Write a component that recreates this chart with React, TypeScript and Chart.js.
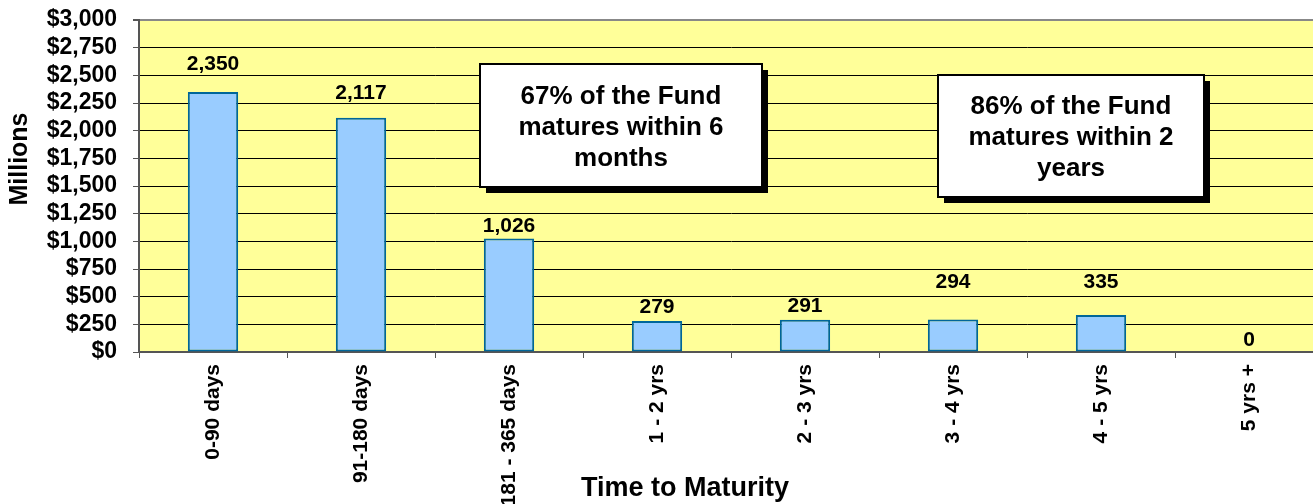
import React, { useEffect, useRef } from "react";
import { Chart, registerables } from "chart.js";

Chart.register(...registerables);

const categories = [
  "0-90 days",
  "91-180 days",
  "181 - 365 days",
  "1 - 2 yrs",
  "2 - 3 yrs",
  "3 - 4 yrs",
  "4 - 5 yrs",
  "5 yrs +",
];
const values = [2350, 2117, 1026, 279, 291, 294, 335, 0];
const yTickValues = [0, 250, 500, 750, 1000, 1250, 1500, 1750, 2000, 2250, 2500, 2750, 3000];
const box1Lines = ["67% of the Fund", "matures within 6", "months"];
const box2Lines = ["86% of the Fund", "matures within 2", "years"];
const xTitle = "Time to Maturity";
const yTitle = "Millions";

const FONT = '"Liberation Sans", Arial, Helvetica, sans-serif';

const decorPlugin = {
  id: "decor",
  beforeDraw(chart: any) {
    const { ctx, chartArea } = chart;
    ctx.save();
    ctx.fillStyle = "#FFFF99";
    ctx.fillRect(chartArea.left, chartArea.top, chartArea.right - chartArea.left, chartArea.bottom - chartArea.top);
    ctx.restore();
  },
  afterDatasetsDraw(chart: any, _args: any, opts: any) {
    const { ctx } = chart;
    const meta = chart.getDatasetMeta(0);
    const data = chart.data.datasets[0].data as number[];
    ctx.save();
    ctx.fillStyle = "#000";
    ctx.font = `bold 21px ${FONT}`;
    ctx.textAlign = "center";
    ctx.textBaseline = "middle";
    meta.data.forEach((bar: any, i: number) => {
      const off = opts.offsets[i] ?? 14;
      ctx.fillText(data[i].toLocaleString("en-US"), bar.x, bar.y - off);
    });
    ctx.restore();
  },
  afterDraw(chart: any, _args: any, opts: any) {
    const { ctx, chartArea } = chart;
    ctx.save();
    for (const b of opts.boxes) {
      ctx.fillStyle = "#000";
      ctx.fillRect(b.x + 6, b.y + 6, b.w, b.h);
      ctx.fillStyle = "#fff";
      ctx.fillRect(b.x, b.y, b.w, b.h);
      ctx.strokeStyle = "#000";
      ctx.lineWidth = 2;
      ctx.strokeRect(b.x, b.y, b.w, b.h);
      ctx.fillStyle = "#000";
      ctx.font = `bold 26px ${FONT}`;
      ctx.textAlign = "center";
      ctx.textBaseline = "middle";
      const lh = 31;
      const cy = b.y + b.h / 2 + 2;
      b.lines.forEach((t: string, i: number) => {
        const y = cy + (i - (b.lines.length - 1) / 2) * lh;
        ctx.fillText(t, b.x + b.w / 2, y);
      });
    }
    ctx.fillStyle = "#000";
    ctx.font = `bold 27px ${FONT}`;
    ctx.textAlign = "center";
    ctx.textBaseline = "middle";
    ctx.fillText(xTitle, chartArea.left + 546, 489);
    ctx.save();
    ctx.translate(20, (chartArea.top + chartArea.bottom) / 2 - 27);
    ctx.rotate(-Math.PI / 2);
    ctx.font = `bold 25px ${FONT}`;
    ctx.fillText(yTitle, 0, 0);
    ctx.restore();
    ctx.restore();
  },
};

export default function App() {
  const ref = useRef<HTMLCanvasElement | null>(null);
  useEffect(() => {
    if (!ref.current) return;
    const chart = new Chart(ref.current, {
      type: "bar",
      data: {
        labels: categories,
        datasets: [
          {
            data: values,
            backgroundColor: "#99CCFF",
            borderColor: "#006699",
            borderWidth: (c: any) => (c.raw === 0 ? 0 : 2),
            borderSkipped: false,
            barPercentage: 0.34,
            categoryPercentage: 1,
          },
        ],
      },
      options: {
        responsive: false,
        animation: false,
        devicePixelRatio: 1,
        layout: { padding: { top: 20, right: 0, left: 0, bottom: 0 } },
        plugins: {
          legend: { display: false },
          tooltip: { enabled: false },
          decor: {
            offsets: [28, 25, 12, 14, 14, 37, 33, 12],
            boxes: [
              { x: 480, y: 64, w: 282, h: 123, lines: box1Lines },
              { x: 938, y: 75, w: 266, h: 122, lines: box2Lines },
            ],
          },
        } as any,
        scales: {
          x: {
            afterFit: (s: any) => {
              s.height = 152;
              s.paddingLeft = 0;
              s.paddingRight = 0;
            },
            grid: {
              display: true,
              drawOnChartArea: false,
              drawTicks: true,
              tickLength: 6,
              tickColor: "#555",
              offset: true,
            },
            border: { display: true, color: "#555", width: 2 },
            ticks: {
              maxRotation: 90,
              minRotation: 90,
              autoSkip: false,
              padding: 6,
              color: "#000",
              font: { family: FONT, size: 21, weight: "bold" },
            },
          },
          y: {
            min: 0,
            max: 3000,
            afterFit: (s: any) => {
              s.width = 139;
              s.paddingTop = 0;
              s.paddingBottom = 0;
            },
            afterBuildTicks: (s: any) => {
              s.ticks = yTickValues.map((v) => ({ value: v }));
            },
            grid: {
              color: (c: any) => (c.tick && c.tick.value === 3000 ? "#888" : "#000"),
              lineWidth: (c: any) => (c.tick && c.tick.value === 3000 ? 2 : 1),
              tickLength: 6,
              tickColor: "#555",
            },
            border: { display: true, color: "#555", width: 2 },
            ticks: {
              autoSkip: false,
              padding: 16,
              color: "#000",
              font: { family: FONT, size: 23, weight: "bold" },
              callback: (v: any) => "$" + Number(v).toLocaleString("en-US"),
            },
          },
        },
      },
      plugins: [decorPlugin],
    } as any);
    return () => chart.destroy();
  }, []);
  return (
    <div
      style={{
        position: "fixed",
        left: 0,
        top: 0,
        width: 1313,
        height: 504,
        overflow: "hidden",
        background: "#fff",
      }}
    >
      <canvas ref={ref} width={1323} height={504} style={{ display: "block" }} />
    </div>
  );
}
